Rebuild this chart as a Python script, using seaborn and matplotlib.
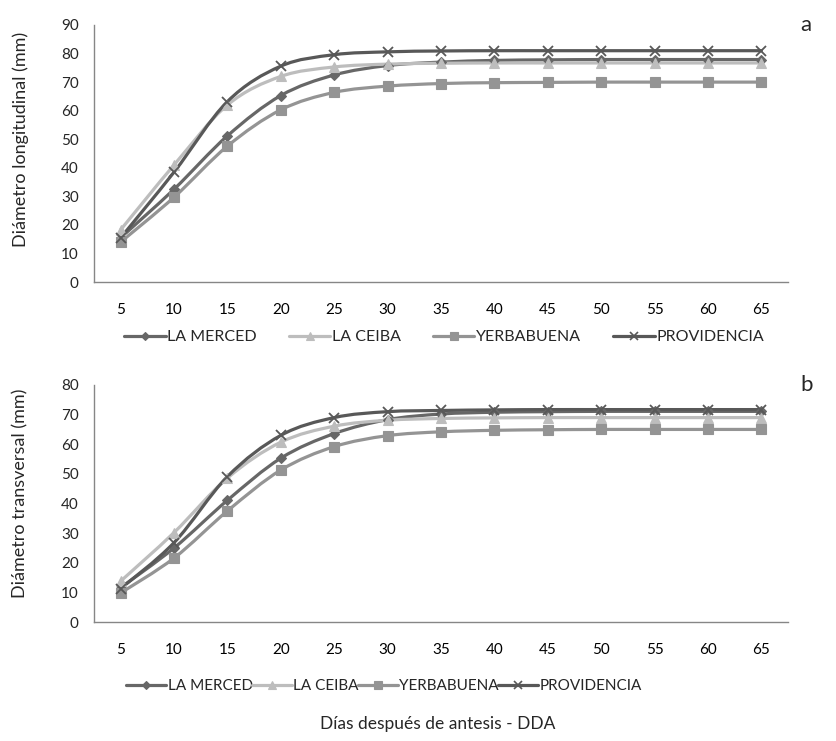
import numpy as np
import pandas as pd
import matplotlib
matplotlib.use("Agg")
import matplotlib.pyplot as plt
import seaborn as sns
from matplotlib.path import Path
from matplotlib.patches import PathPatch
from matplotlib.lines import Line2D

# ---------------- data ----------------
dias = [5, 10, 15, 20, 25, 30, 35, 40, 45, 50, 55, 60, 65]
series_names = ["LA MERCED", "LA CEIBA", "YERBABUENA", "PROVIDENCIA"]

long_merced = [15.5, 32.5, 51.2, 65.3, 72.5, 75.8, 77.0, 77.6, 77.8, 77.9, 77.9, 77.9, 77.9]
long_ceiba = [18.3, 41.0, 62.0, 72.0, 75.3, 76.3, 76.6, 76.7, 76.7, 76.7, 76.7, 76.7, 76.7]
long_yerba = [14.0, 29.7, 47.6, 60.3, 66.4, 68.6, 69.5, 69.8, 69.9, 70.0, 70.0, 70.0, 70.0]
long_provi = [15.5, 38.5, 63.2, 75.6, 79.6, 80.6, 80.9, 81.0, 81.0, 81.0, 81.0, 81.0, 81.0]

trans_merced = [11.6, 25.0, 41.1, 55.3, 63.6, 68.3, 70.2, 70.8, 71.0, 71.1, 71.1, 71.1, 71.1]
trans_ceiba = [13.8, 30.2, 48.6, 60.7, 66.1, 68.1, 68.7, 68.9, 69.0, 69.0, 69.0, 69.0, 69.0]
trans_yerba = [9.8, 21.6, 37.5, 51.3, 59.2, 62.9, 64.2, 64.7, 64.9, 65.0, 65.0, 65.0, 65.0]
trans_provi = [11.3, 26.8, 49.1, 63.0, 69.0, 71.0, 71.4, 71.6, 71.7, 71.7, 71.7, 71.7, 71.7]

ylabel_top = "Diámetro longitudinal (mm)"
ylabel_bot = "Diámetro transversal (mm)"
xlabel = "Días después de antesis - DDA"

# ---------------- style ----------------
colors = {"LA MERCED": "#676767", "LA CEIBA": "#bdbdbd",
          "YERBABUENA": "#949494", "PROVIDENCIA": "#585858"}
markers = {"LA MERCED": "D", "LA CEIBA": "^", "YERBABUENA": "s", "PROVIDENCIA": "x"}
msizes = {"LA MERCED": 5, "LA CEIBA": 7, "YERBABUENA": 6.5, "PROVIDENCIA": 7}

sns.set_style("white")
plt.rcParams["font.family"] = ["Lato", "DejaVu Sans"]

fig = plt.figure(figsize=(8.37, 7.41), dpi=100)
W, H = 837, 741
ax1 = fig.add_axes([94 / W, 1 - 282 / H, 694 / W, 257 / H])
ax2 = fig.add_axes([94 / W, 1 - 622 / H, 694 / W, 237 / H])


def smooth_path(xs, ys):
    n = len(xs)
    verts = [(xs[0], ys[0])]
    codes = [Path.MOVETO]
    for i in range(n - 1):
        i0 = max(i - 1, 0)
        i3 = min(i + 2, n - 1)
        c1 = (xs[i] + (xs[i + 1] - xs[i0]) / 6.0, ys[i] + (ys[i + 1] - ys[i0]) / 6.0)
        c2 = (xs[i + 1] - (xs[i3] - xs[i]) / 6.0, ys[i + 1] - (ys[i3] - ys[i]) / 6.0)
        verts += [c1, c2, (xs[i + 1], ys[i + 1])]
        codes += [Path.CURVE4] * 3
    return Path(verts, codes)


def draw_panel(ax, values, ymax, label, label_y):
    pos = list(range(len(dias)))
    df = pd.DataFrame({
        "pos": pos * len(series_names),
        "val": sum(values, []),
        "serie": sum([[s] * len(dias) for s in series_names], []),
    })
    for s in series_names:
        d = df[df["serie"] == s]
        patch = PathPatch(smooth_path(list(d["pos"]), list(d["val"])),
                          facecolor="none", edgecolor=colors[s], lw=2.3,
                          capstyle="round", joinstyle="round", zorder=2)
        ax.add_patch(patch)
        sns.lineplot(data=d, x="pos", y="val", ax=ax, color=colors[s],
                     marker=markers[s], markersize=msizes[s], linestyle="none",
                     markeredgecolor=colors[s], markeredgewidth=1.3 if s == "PROVIDENCIA" else 0.8,
                     zorder=3, legend=False)
    ax.set_xlim(-0.5, len(dias) - 0.5)
    ax.set_ylim(0, ymax)
    ax.set_yticks(np.arange(0, ymax + 1, 10))
    ax.set_xticks(pos)
    ax.set_xticklabels([str(d) for d in dias])
    ax.set_xticks(np.arange(-0.5, len(dias), 1.0), minor=True)
    ax.tick_params(axis="x", which="major", length=0, pad=15, labelsize=11, colors="#000000")
    ax.tick_params(axis="x", which="minor", length=5, width=1, color="#868686", direction="out")
    ax.tick_params(axis="y", which="major", length=5, width=1, color="#868686",
                   direction="out", labelsize=11, pad=6)
    for sp in ["top", "right"]:
        ax.spines[sp].set_visible(False)
    for sp in ["left", "bottom"]:
        ax.spines[sp].set_color("#868686")
        ax.spines[sp].set_linewidth(1)
    ax.set_xlabel("")
    ax.set_ylabel(label, fontsize=13)
    ax.yaxis.set_label_coords(-0.094, label_y)


draw_panel(ax1, [long_merced, long_ceiba, long_yerba, long_provi], 90, ylabel_top, 0.555)
draw_panel(ax2, [trans_merced, trans_ceiba, trans_yerba, trans_provi], 80, ylabel_bot, 0.545)

handles = [Line2D([0], [0], color=colors[s], lw=2.3, marker=markers[s],
                  markersize=msizes[s] - 1, markeredgecolor=colors[s],
                  markeredgewidth=1.2 if s == "PROVIDENCIA" else 0.8)
           for s in series_names]

fig.legend(handles, series_names, loc="center", bbox_to_anchor=(444 / W, 1 - 337 / H),
           ncol=4, frameon=False, fontsize=11.5, handlelength=2.6, handletextpad=0.1,
           columnspacing=2.0)
fig.legend(handles, series_names, loc="center", bbox_to_anchor=(384 / W, 1 - 686 / H),
           ncol=4, frameon=False, fontsize=11, handlelength=2.6, handletextpad=0.1,
           columnspacing=-0.05)

fig.text(438 / W, 1 - 724 / H, xlabel, ha="center", va="center", fontsize=12.5)
fig.text(800 / W, 1 - 25 / H, "a", ha="left", va="center", fontsize=16)
fig.text(800 / W, 1 - 385 / H, "b", ha="left", va="center", fontsize=16)

fig.savefig("out.png", dpi=100)
